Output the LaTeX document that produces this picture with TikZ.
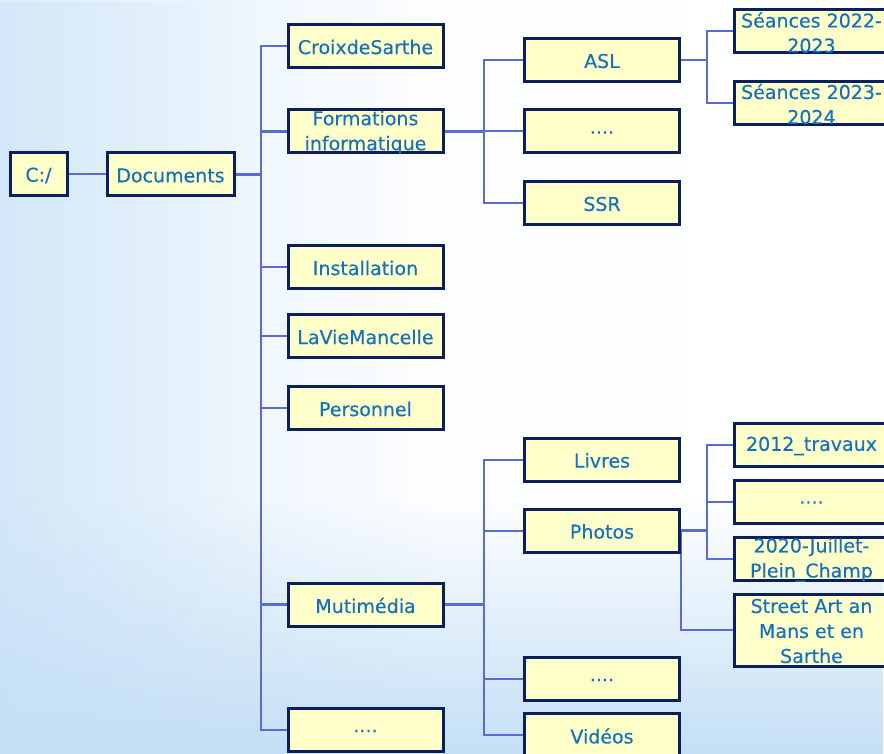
\documentclass[tikz,border=0pt]{standalone}
\usepackage{fontspec}
\setmainfont{DejaVu Sans}
\newfontfamily\boxfont{DejaVu Sans}[FakeBold=0.35]
\usetikzlibrary{backgrounds,fadings}
\definecolor{boxfill}{HTML}{FFFFCA}
\definecolor{boxline}{HTML}{0B1F5E}
\definecolor{txtcol}{HTML}{1570BE}
\definecolor{linecol}{HTML}{5A6BD2}
\definecolor{bgblue}{HTML}{C4DFF6}
\definecolor{bgleft}{HTML}{DDEDFB}
\tikzset{
  box/.style={draw=boxline, line width=3pt, fill=boxfill, minimum width=155pt, minimum height=43pt, inner sep=0pt},
  txt/.style={text=txtcol, font=\boxfont\fontsize{19}{25}\selectfont, align=center, inner sep=0pt, yshift=-1pt},
  conn/.style={draw=linecol, line width=2pt},
  pconn/.style={draw=linecol, line width=2.6pt},
  dconn/.style={draw=linecol, line width=3.6pt},
}
\begin{document}
\begin{tikzpicture}[x=1pt,y=-1pt]
\useasboundingbox (0,0) rectangle (884,754);
\clip (0,0) rectangle (884,754);
\begin{scope}[on background layer]
  \shade[left color=bgleft, right color=white, middle color=white!94!bgleft] (0,0) rectangle (884,754);
  \fill[bgblue, path fading=north] (0,500) rectangle (884,754);
  \fill[bgblue, opacity=0.35, path fading=east] (0,0) rectangle (260,754);
\end{scope}

% level 0/1
\node[box, minimum width=57pt] (c) at (38.5,174.5) {};
\node[txt] at (c) {C:/};
\node[box, minimum width=127pt] (doc) at (170.5,174.5) {};
\node[txt] at (doc) {Documents};

% children of Documents
\node[box] (croix) at (365.5,46) {};
\node[txt] at (croix) {CroixdeSarthe};
\node[box] (form) at (365.5,131.5) {};
\node[txt] at (form) {Formations\\informatique};
\node[box] (inst) at (365.5,267) {};
\node[txt] at (inst) {Installation};
\node[box] (lavie) at (365.5,336) {};
\node[txt] at (lavie) {LaVieMancelle};
\node[box] (perso) at (365.5,408) {};
\node[txt] at (perso) {Personnel};
\node[box] (multi) at (365.5,604.5) {};
\node[txt] at (multi) {Mutimédia};
\node[box] (dotsa) at (365.5,730) {};
\node[txt] at (dotsa) {....};

% children of Formations
\node[box] (asl) at (602,60) {};
\node[txt] at (asl) {ASL};
\node[box] (dotsb) at (602,131.5) {};
\node[txt] at (dotsb) {....};
\node[box] (ssr) at (602,203) {};
\node[txt] at (ssr) {SSR};

% children of ASL
\node[box] (sa) at (811.5,31.5) {};
\node[txt] at (sa) {Séances 2022-\\2023};
\node[box] (sb) at (811.5,103) {};
\node[txt] at (sb) {Séances 2023-\\2024};

% children of Multimedia
\node[box] (livres) at (602,459.5) {};
\node[txt] at (livres) {Livres};
\node[box] (photos) at (602,530.5) {};
\node[txt] at (photos) {Photos};
\node[box] (dotsc) at (602,679) {};
\node[txt] at (dotsc) {....};
\node[box] (videos) at (602,735) {};
\node[txt] at (videos) {Vidéos};

% children of Photos
\node[box] (p1) at (811.5,445) {};
\node[txt] at (p1) {2012\_travaux};
\node[box] (p2) at (811.5,501.5) {};
\node[txt] at (p2) {....};
\node[box] (p3) at (811.5,559) {};
\node[txt] at (p3) {2020-Juillet-\\Plein\_Champ};
\node[box, minimum height=72pt] (p4) at (811.5,630) {};
\node[txt] at (p4) {Street Art an\\Mans et en\\Sarthe};

\coordinate (s1) at (261,174.5);
\coordinate (s2) at (483.5,131.5);
\coordinate (s3) at (707,60);
\coordinate (s4) at (483.5,604.5);
\coordinate (s5) at (707,530.5);

\begin{scope}[on background layer]
  \draw[conn] (c.east) -- (doc.west);
  \draw[dconn] (doc.east) -- (s1);
  \foreach \n in {croix,form,inst,lavie,perso,multi,dotsa}
    \draw[pconn] (s1) |- (\n.west);
  \draw[pconn] (form.east) -- (s2);
  \foreach \n in {asl,dotsb,ssr}
    \draw[conn] (s2) |- (\n.west);
  \draw[pconn] (asl.east) -- (s3);
  \foreach \n in {sa,sb}
    \draw[conn] (s3) |- (\n.west);
  \draw[pconn] (multi.east) -- (s4);
  \foreach \n in {livres,photos,dotsc,videos}
    \draw[conn] (s4) |- (\n.west);
  \draw[pconn] (photos.east) -- (s5);
  \foreach \n in {p1,p2,p3}
    \draw[conn] (s5) |- (\n.west);
  \draw[conn] (photos.east) |- (p4.west);
\end{scope}
\end{tikzpicture}
\end{document}
